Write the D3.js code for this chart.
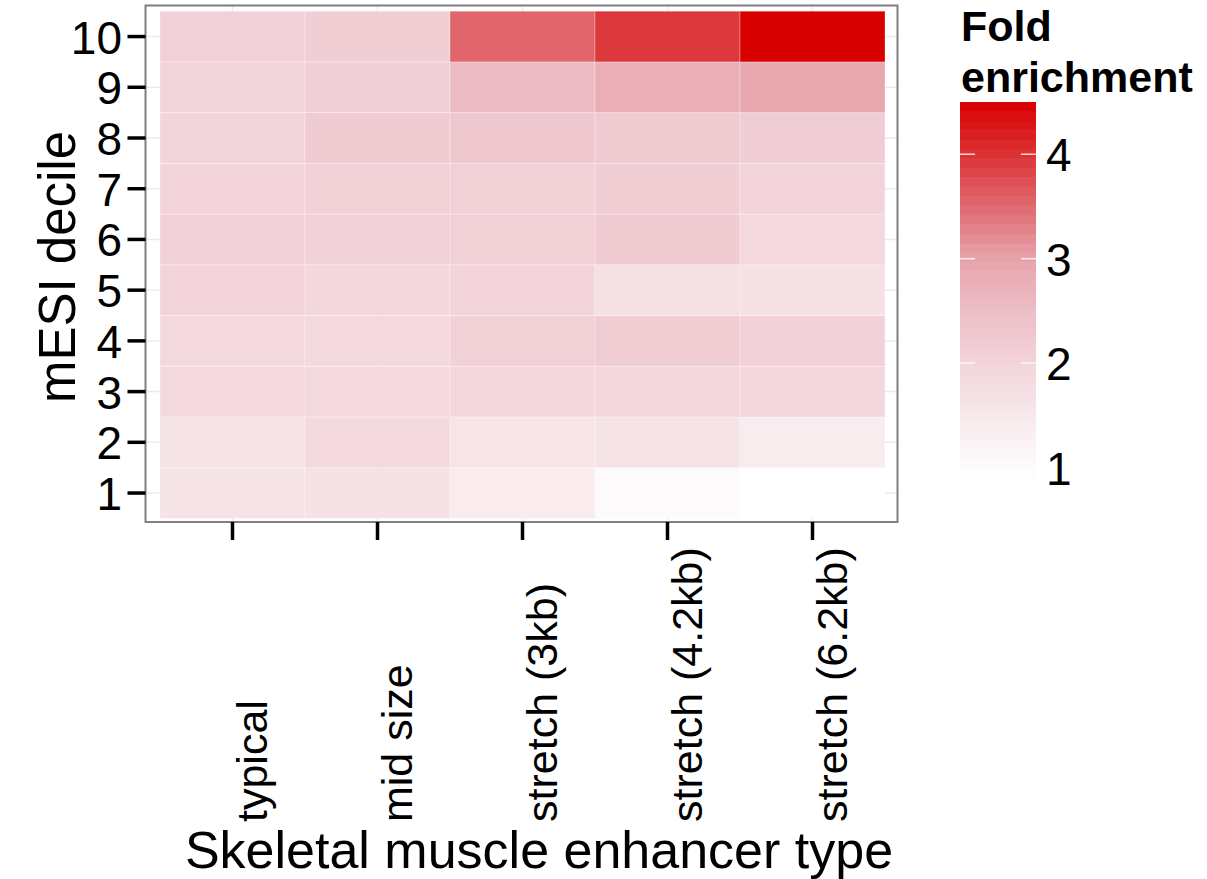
<!DOCTYPE html>
<html>
<head>
<meta charset="utf-8">
<script src="https://cdn.jsdelivr.net/npm/d3@7"></script>
<style>
  html, body { margin: 0; padding: 0; background: #fff; }
  svg { display: block; font-family: "Liberation Sans", Arial, Helvetica, sans-serif; }
</style>
</head>
<body>
<svg id="chart" width="1207" height="879"></svg>
<script>
// Enhancer categories (x) and mESI deciles (y)
const enhancerTypes = ["typical", "mid size", "stretch (3kb)", "stretch (4.2kb)", "stretch (6.2kb)"];
const deciles = ["1", "2", "3", "4", "5", "6", "7", "8", "9", "10"];

// Fold enrichment per enhancer type, listed from decile 1 to decile 10
const typicalFold  = [1.64, 1.64, 1.90, 1.88, 2.02, 2.05, 2.00, 1.98, 1.98, 2.07];
const midSizeFold  = [1.69, 1.88, 1.88, 1.90, 1.93, 2.07, 2.09, 2.20, 2.11, 2.14];
const stretch3Fold = [1.44, 1.62, 1.93, 2.09, 2.00, 2.09, 2.09, 2.27, 2.55, 3.54];
const stretch42Fold = [1.00, 1.64, 1.93, 2.18, 1.71, 2.20, 2.14, 2.23, 2.80, 3.95];
const stretch62Fold = [0.90, 1.41, 1.93, 2.05, 1.69, 1.90, 2.02, 2.16, 2.90, 4.50];

const seriesValues = [typicalFold, midSizeFold, stretch3Fold, stretch42Fold, stretch62Fold];
const legendTicks = [1, 2, 3, 4];

const cells = [];
enhancerTypes.forEach((t, i) => {
  deciles.forEach((d, j) => cells.push({ type: t, decile: d, value: seriesValues[i][j] }));
});

const svg = d3.select("#chart");

// panel geometry
const panel = { left: 145.5, right: 897.5, top: 5.5, bottom: 522 };
const tileX = [160, 885];
const tileY = [11.2, 518.4];

const x = d3.scaleBand().domain(enhancerTypes).range(tileX).padding(0);
const y = d3.scaleBand().domain(deciles).range([tileY[1], tileY[0]]).padding(0);

const allValues = cells.map(c => c.value);
const vMin = d3.min(allValues), vMax = d3.max(allValues);

// white -> red fill ramp
const color = d3.scaleLinear()
  .domain([0.9, 1, 1.5, 2, 2.5, 3, 3.5, 4, 4.5])
  .range(["#ffffff", "#fdfafb", "#f8e9ec", "#f2d4da", "#edbec6", "#e7a3ab", "#e06a70", "#db3236", "#d90000"])
  .interpolate(d3.interpolateRgb)
  .clamp(true);

// panel background
svg.append("rect")
  .attr("x", panel.left).attr("y", panel.top)
  .attr("width", panel.right - panel.left).attr("height", panel.bottom - panel.top)
  .attr("fill", "#ffffff");

// grid lines at category centres
const grid = svg.append("g").attr("stroke", "#ebebeb").attr("stroke-width", 1.5);
enhancerTypes.forEach(t => {
  const cx = x(t) + x.bandwidth() / 2;
  grid.append("line").attr("x1", cx).attr("x2", cx).attr("y1", panel.top).attr("y2", panel.bottom);
});
deciles.forEach(d => {
  const cy = y(d) + y.bandwidth() / 2;
  grid.append("line").attr("x1", panel.left).attr("x2", panel.right).attr("y1", cy).attr("y2", cy);
});

// tiles
svg.append("g").selectAll("rect").data(cells).join("rect")
  .attr("x", d => x(d.type))
  .attr("y", d => y(d.decile))
  .attr("width", x.bandwidth())
  .attr("height", y.bandwidth())
  .attr("fill", d => color(d.value))
  .attr("stroke", "rgba(255,255,255,0.3)")
  .attr("stroke-width", 1);

// panel border
svg.append("rect")
  .attr("x", panel.left).attr("y", panel.top)
  .attr("width", panel.right - panel.left).attr("height", panel.bottom - panel.top)
  .attr("fill", "none").attr("stroke", "#7f7f7f").attr("stroke-width", 2);

// y axis
const yAxis = svg.append("g");
deciles.forEach(d => {
  const cy = y(d) + y.bandwidth() / 2;
  yAxis.append("line").attr("x1", panel.left - 18).attr("x2", panel.left)
    .attr("y1", cy).attr("y2", cy).attr("stroke", "#000").attr("stroke-width", 3.5);
  yAxis.append("text").attr("x", 122).attr("y", cy + 1)
    .attr("text-anchor", "end").attr("dominant-baseline", "central")
    .attr("font-size", 46).text(d);
});

// x axis
const xAxis = svg.append("g");
enhancerTypes.forEach(t => {
  const cx = x(t) + x.bandwidth() / 2;
  xAxis.append("line").attr("x1", cx).attr("x2", cx)
    .attr("y1", panel.bottom).attr("y2", panel.bottom + 18)
    .attr("stroke", "#000").attr("stroke-width", 3.5);
  xAxis.append("text")
    .attr("transform", `translate(${cx + 34},822) rotate(-90)`)
    .attr("text-anchor", "start")
    .attr("font-size", 43).text(t);
});

// axis titles
svg.append("text")
  .attr("x", 539).attr("y", 868)
  .attr("text-anchor", "middle").attr("font-size", 52)
  .text("Skeletal muscle enhancer type");

svg.append("text")
  .attr("transform", "translate(75,267) rotate(-90)")
  .attr("text-anchor", "middle").attr("font-size", 51)
  .text("mESI decile");

// legend
const legend = { x: 960, w: 76, top: 102, bottom: 478 };
const ly = d3.scaleLinear().domain([vMin, vMax]).range([legend.bottom, legend.top]);
const nBins = 40;
const binEdges = d3.range(nBins + 1).map(i => vMin + (vMax - vMin) * i / nBins);
const lg = svg.append("g");
lg.selectAll("rect").data(d3.range(nBins)).join("rect")
  .attr("x", legend.x).attr("width", legend.w)
  .attr("y", i => ly(binEdges[i + 1]))
  .attr("height", i => ly(binEdges[i]) - ly(binEdges[i + 1]) + 0.5)
  .attr("fill", i => color((binEdges[i] + binEdges[i + 1]) / 2));

legendTicks.forEach(v => {
  const ty = ly(v);
  lg.append("line").attr("x1", legend.x).attr("x2", legend.x + 15).attr("y1", ty).attr("y2", ty)
    .attr("stroke", "#ffffff").attr("stroke-opacity", 0.8).attr("stroke-width", 1.5);
  lg.append("line").attr("x1", legend.x + legend.w - 15).attr("x2", legend.x + legend.w).attr("y1", ty).attr("y2", ty)
    .attr("stroke", "#ffffff").attr("stroke-opacity", 0.8).attr("stroke-width", 1.5);
  lg.append("text").attr("x", 1046).attr("y", ty + 1)
    .attr("dominant-baseline", "central").attr("font-size", 46).text(v);
});

lg.append("text").attr("x", 961).attr("y", 41)
  .attr("font-size", 43).attr("font-weight", "bold").text("Fold");
lg.append("text").attr("x", 961).attr("y", 92)
  .attr("font-size", 43).attr("font-weight", "bold").text("enrichment");
</script>
</body>
</html>
